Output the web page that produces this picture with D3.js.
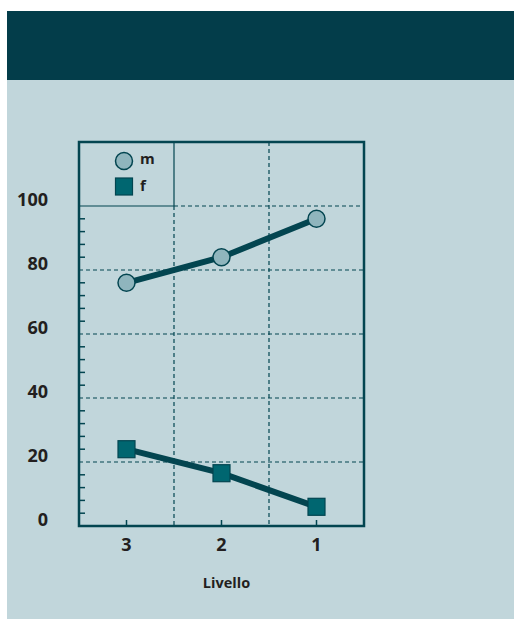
<!DOCTYPE html>
<html><head><meta charset="utf-8">
<script src="https://cdn.jsdelivr.net/npm/d3@7"></script>
<style>
html,body{margin:0;padding:0;background:#fff;}
svg{display:block;}
text{font-family:"Open Sans","Lato",sans-serif;font-weight:700;fill:#231f20;}
</style></head>
<body>
<script>
const categories = ["3", "2", "1"];
const seriesM = [76, 84, 96];
const seriesF = [24, 16.5, 6];
const yTickLabels = [0, 20, 40, 60, 80, 100];
const legendLabels = ["m", "f"];
const xTitle = "Livello";

const W = 514, H = 620;
const dark = "#033d4a", panel = "#c1d6db", lineCol = "#034550";
const circFill = "#8fb5bd", sqFill = "#006670";

const svg = d3.select("body").append("svg").attr("width", W).attr("height", H);
svg.append("rect").attr("x", 7).attr("y", 80).attr("width", W - 7).attr("height", 539).attr("fill", panel);
svg.append("rect").attr("x", 7).attr("y", 11).attr("width", W - 7).attr("height", 69).attr("fill", dark);

const pL = 79, pR = 364, pT = 142, pB = 526;
const x = d3.scaleBand().domain(categories).range([pL, pR]);
const y = d3.scaleLinear().domain([0, 120]).range([pB, pT]);

const g = svg.append("g");
// dashed vertical gridlines (band borders)
const vb = categories.slice(1).map(c => x(c));
g.selectAll(".vg").data(vb).join("line")
  .attr("x1", d => d).attr("x2", d => d)
  .attr("y1", (d, i) => (i === 0 ? y(100) : pT)).attr("y2", pB)
  .attr("stroke", lineCol).attr("stroke-width", 1.2).attr("stroke-dasharray", "4,3");
// solid legend box border
g.append("line").attr("x1", x(categories[1])).attr("x2", x(categories[1]))
  .attr("y1", pT).attr("y2", y(100)).attr("stroke", lineCol).attr("stroke-width", 1.2);
g.append("line").attr("x1", pL).attr("x2", x(categories[1]))
  .attr("y1", y(100)).attr("y2", y(100)).attr("stroke", lineCol).attr("stroke-width", 1.2);
// dashed horizontal gridlines
const hg = [20, 40, 60, 80, 100];
g.selectAll(".hg").data(hg).join("line")
  .attr("x1", d => d === 100 ? x(categories[1]) : pL).attr("x2", pR)
  .attr("y1", d => y(d)).attr("y2", d => y(d))
  .attr("stroke", lineCol).attr("stroke-width", 1.2).attr("stroke-dasharray", "4,3");

// minor ticks on y axis (every 4 units)
const minor = d3.range(4, 101, 4).filter(v => v % 20 !== 0);
g.selectAll(".mt").data(minor).join("line")
  .attr("x1", pL).attr("x2", pL + 6)
  .attr("y1", d => y(d)).attr("y2", d => y(d))
  .attr("stroke", lineCol).attr("stroke-width", 1.5);
// x ticks
g.selectAll(".xt").data(categories).join("line")
  .attr("x1", d => x(d) + x.bandwidth() / 2).attr("x2", d => x(d) + x.bandwidth() / 2)
  .attr("y1", pB).attr("y2", pB - 6)
  .attr("stroke", lineCol).attr("stroke-width", 1.5);

// frame
g.append("rect").attr("x", pL).attr("y", pT).attr("width", pR - pL).attr("height", pB - pT)
  .attr("fill", "none").attr("stroke", lineCol).attr("stroke-width", 2.5);

// y labels
svg.selectAll(".yl").data(yTickLabels).join("text")
  .attr("x", 48).attr("y", d => y(d) - 6).attr("dy", "0.35em")
  .attr("text-anchor", "end").attr("font-size", 18).text(d => d);
// x labels
svg.selectAll(".xl").data(categories).join("text")
  .attr("x", d => x(d) + x.bandwidth() / 2).attr("y", 545).attr("dy", "0.35em")
  .attr("text-anchor", "middle").attr("font-size", 18).text(d => d);
svg.append("text").attr("x", x(categories[1]) + x.bandwidth() / 2 + 5).attr("y", 583).attr("dy", "0.35em")
  .attr("text-anchor", "middle").attr("font-size", 14.5).text(xTitle);

const cx = d => x(d) + x.bandwidth() / 2;
const line = d3.line().x(d => cx(d.c)).y(d => y(d.v));
const mData = categories.map((c, i) => ({c, v: seriesM[i]}));
const fData = categories.map((c, i) => ({c, v: seriesF[i]}));

svg.append("path").datum(mData).attr("d", line).attr("fill", "none").attr("stroke", lineCol).attr("stroke-width", 6);
svg.append("path").datum(fData).attr("d", line).attr("fill", "none").attr("stroke", lineCol).attr("stroke-width", 6);

svg.selectAll(".mc").data(mData).join("circle")
  .attr("cx", d => cx(d.c)).attr("cy", d => y(d.v)).attr("r", 8.5)
  .attr("fill", circFill).attr("stroke", lineCol).attr("stroke-width", 1.5);
svg.selectAll(".fs").data(fData).join("rect")
  .attr("x", d => cx(d.c) - 8.5).attr("y", d => y(d.v) - 8.5).attr("width", 17).attr("height", 17)
  .attr("fill", sqFill).attr("stroke", lineCol).attr("stroke-width", 1.2);

// legend
const lg = svg.append("g");
lg.append("circle").attr("cx", 124).attr("cy", 161).attr("r", 8.5)
  .attr("fill", circFill).attr("stroke", lineCol).attr("stroke-width", 1.5);
lg.append("rect").attr("x", 115.5).attr("y", 178).attr("width", 17).attr("height", 17)
  .attr("fill", sqFill).attr("stroke", lineCol).attr("stroke-width", 1.2);
lg.selectAll("text").data(legendLabels).join("text")
  .attr("x", 140).attr("y", (d, i) => 159 + i * 27).attr("dy", "0.35em")
  .attr("font-size", 15).text(d => d);
</script>
</body></html>
